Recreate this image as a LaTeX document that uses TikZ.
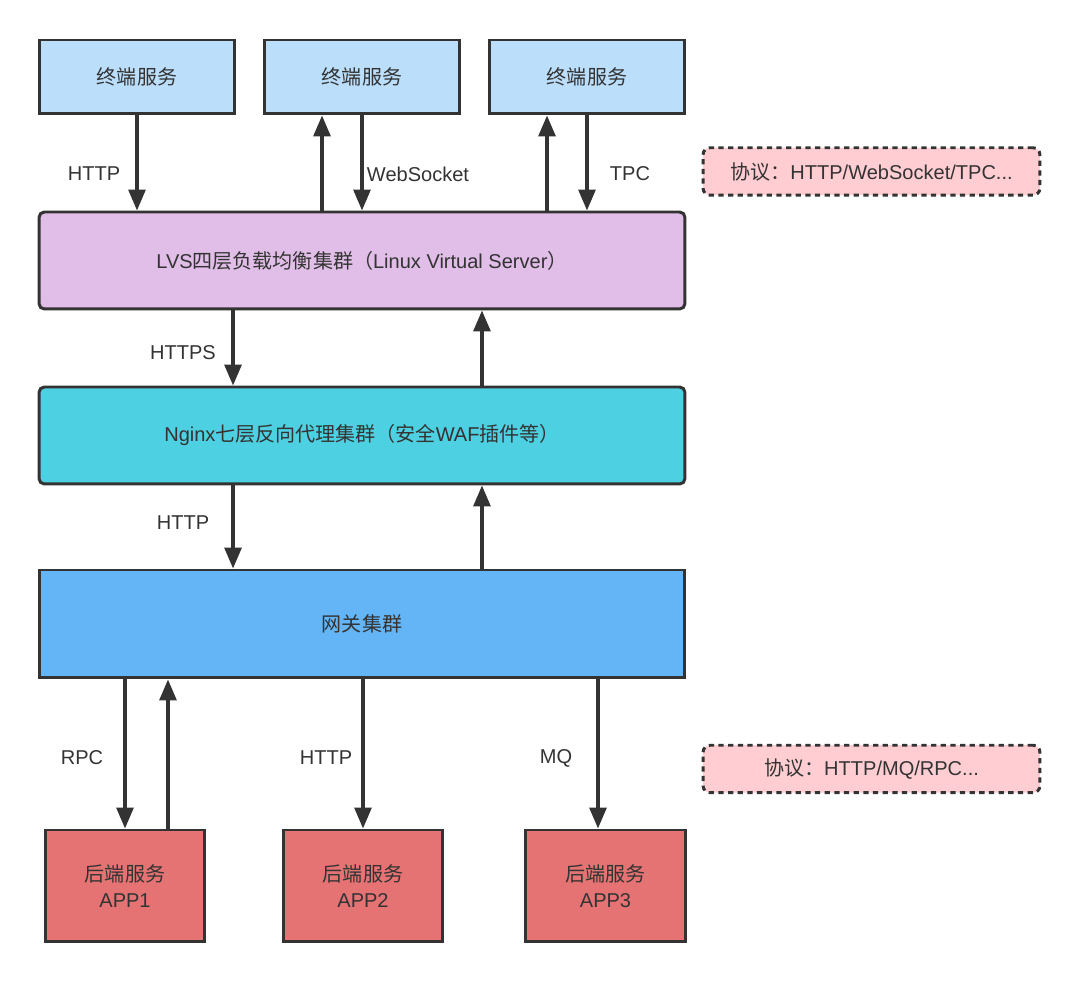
\documentclass[tikz,border=0pt]{standalone}
\usepackage{fontspec}
\setmainfont{Liberation Sans}
\newfontfamily\cjk{Noto Sans CJK SC}
\usetikzlibrary{arrows.meta}
\definecolor{termblue}{HTML}{BBDEFB}
\definecolor{lvspurple}{HTML}{E1BEE7}
\definecolor{nginxcyan}{HTML}{4DD0E1}
\definecolor{gwblue}{HTML}{64B5F6}
\definecolor{appred}{HTML}{E57373}
\definecolor{notepink}{HTML}{FFCDD2}
\definecolor{ink}{HTML}{333333}

\begin{document}
\begin{tikzpicture}[
  x=0.02cm, y=-0.02cm,
  font=\fontsize{11.4pt}{14.8pt}\selectfont, text=ink,
  block/.style={draw=ink, line width=1.7pt, align=center, inner sep=0pt},
  term/.style={block, fill=termblue, minimum width=3.92cm, minimum height=1.48cm},
  layer/.style={block, rounded corners=3pt, minimum width=12.92cm,
    minimum height=1.94cm},
  app/.style={block, fill=appred, minimum width=3.2cm, minimum height=2.24cm},
  note/.style={draw=ink, line width=1.7pt, dash pattern=on 3pt off 2.5pt,
    rounded corners=4pt, fill=notepink, minimum width=6.74cm,
    minimum height=0.95cm},
  arrow/.style={-{Triangle[length=0.42cm, width=0.34cm]}, line width=1.8pt,
    draw=ink}
]
\useasboundingbox (0,0) rectangle (1080,982);

\node[term] (term1) at (137,77) {\cjk 终端服务};
\node[term] (term2) at (362,77) {\cjk 终端服务};
\node[term] (term3) at (587,77) {\cjk 终端服务};

\node[layer, fill=lvspurple] (lvs) at (362,260.5)
  {LVS{\cjk 四层负载均衡集群（}Linux Virtual Server{\cjk ）}};
\node[layer, fill=nginxcyan] (nginx) at (362,435.5)
  {Nginx{\cjk 七层反向代理集群（安全}WAF{\cjk 插件等）}};
\node[block, fill=gwblue, minimum width=12.92cm, minimum height=2.16cm]
  (gateway) at (362,624) {\cjk 网关集群};

\node[app] (app1) at (125,886) {{\cjk 后端服务}\\APP1};
\node[app] (app2) at (363,886) {{\cjk 后端服务}\\APP2};
\node[app] (app3) at (605.5,886) {{\cjk 后端服务}\\APP3};

\node[note] (proto1) at (871.5,171.5) {{\cjk 协议：}HTTP/WebSocket/TPC...};
\node[note] (proto2) at (871.5,769) {{\cjk 协议：}HTTP/MQ/RPC...};

% labels
\node (lblhttp) at (94,174) {HTTP};
\node (lblws) at (418,174) {WebSocket};
\node (lbltpc) at (630,174) {TPC};
\node (lblhttps) at (183,353) {HTTPS};
\node (lblgw) at (183,523) {HTTP};
\node (lblrpc) at (82,758) {RPC};
\node (lblapp) at (326,758) {HTTP};
\node (lblmq) at (556,758) {MQ};

\draw[arrow] (term1.south) -- (term1.south |- lvs.north);
\draw[arrow] ([xshift=-0.8cm]term2.south |- lvs.north) -- ([xshift=-0.8cm]term2.south);
\draw[arrow] (term2.south) -- (term2.south |- lvs.north);
\draw[arrow] ([xshift=-0.8cm]term3.south |- lvs.north) -- ([xshift=-0.8cm]term3.south);
\draw[arrow] (term3.south) -- (term3.south |- lvs.north);

\draw[arrow] ([xshift=-2.58cm]lvs.south) -- ([xshift=-2.58cm]nginx.north);
\draw[arrow] ([xshift=2.4cm]nginx.north) -- ([xshift=2.4cm]lvs.south);
\draw[arrow] ([xshift=-2.58cm]nginx.south) -- ([xshift=-2.58cm]gateway.north);
\draw[arrow] ([xshift=2.4cm]gateway.north) -- ([xshift=2.4cm]nginx.south);

\draw[arrow] (gateway.south -| app1.north) -- (app1.north);
\draw[arrow] ([xshift=0.86cm]app1.north) -- ([xshift=0.86cm]app1.north |- gateway.south);
\draw[arrow] (gateway.south -| app2.north) -- (app2.north);
\draw[arrow] ([xshift=-0.15cm]app3.north |- gateway.south) -- ([xshift=-0.15cm]app3.north);
\end{tikzpicture}
\end{document}
